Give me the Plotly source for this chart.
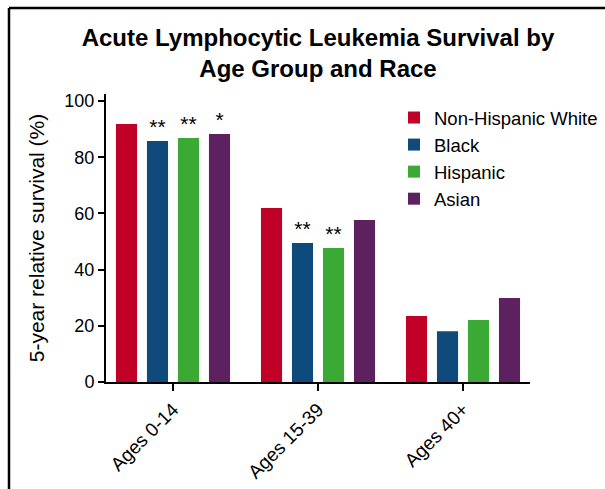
import plotly.graph_objects as go

# Data
age_groups = ["Ages 0-14", "Ages 15-39", "Ages 40+"]
races = ["Non-Hispanic White", "Black", "Hispanic", "Asian"]
white = [91.8, 61.9, 23.5]
black = [85.8, 49.5, 18.1]
hispanic = [86.8, 47.7, 22.1]
asian = [88.3, 57.7, 29.9]
sig_white = ["", "", ""]
sig_black = ["**", "**", ""]
sig_hispanic = ["**", "**", ""]
sig_asian = ["*", "", ""]

colors = ["#C00026", "#0F4A7D", "#3BAA34", "#5D2160"]
series = [white, black, hispanic, asian]
sigs = [sig_white, sig_black, sig_hispanic, sig_asian]

W, H = 605, 489
ML, MR, MT, MB = 106, 75, 94, 107
PW, PH = W - ML - MR, H - MT - MB


def px_x(px):
    return (px - ML) / PW


def px_y(py):
    return (H - MB - py) / PH


fig = go.Figure()
for name, vals, col, s in zip(races, series, colors, sigs):
    fig.add_trace(go.Bar(
        x=age_groups, y=vals, name=name, legendgroup=name,
        marker=dict(color=col, line=dict(width=0)),
        text=s, textposition="outside", constraintext="none",
        textfont=dict(size=21, color="black", family="Liberation Sans"),
        cliponaxis=False,
    ))

fig.update_layout(
    width=W, height=H,
    margin=dict(l=ML, r=MR, t=MT, b=MB, autoexpand=False),
    paper_bgcolor="white", plot_bgcolor="white",
    font=dict(family="Liberation Sans, Arial, sans-serif", color="black"),
    barmode="group", bargap=0.145, bargroupgap=0.32,
    title=dict(
        text="<b>Acute Lymphocytic Leukemia Survival by<br>Age Group and Race</b>",
        x=0.5, xref="paper", xanchor="center",
        y=1 - 46 / H, yref="container", yanchor="top",
        font=dict(size=24, family="Liberation Sans", color="black"),
        automargin=False,
    ),
    legend=dict(
        x=px_x(394), y=px_y(99), xanchor="left", yanchor="top",
        font=dict(size=18.5), bgcolor="rgba(0,0,0,0)",
        tracegroupgap=5, traceorder="normal", itemwidth=30,
    ),
    xaxis=dict(
        range=[-0.462, 2.462], showline=True, linecolor="black", linewidth=2,
        ticks="outside", ticklen=7, tickwidth=2, tickcolor="black",
        tickangle=-45, tickfont=dict(size=19), showgrid=False, zeroline=False,
        automargin=False,
    ),
    yaxis=dict(
        range=[0, 102.5], showline=True, linecolor="black", linewidth=2,
        ticks="outside", ticklen=6, tickwidth=1.5, tickcolor="black",
        tickvals=[0, 20, 40, 60, 80, 100], tickfont=dict(size=18),
        showgrid=False, zeroline=False, automargin=False,
        title=dict(text="5-year relative survival (%)", font=dict(size=21), standoff=14),
    ),
    shapes=[
        dict(type="line", xref="paper", yref="paper",
             x0=px_x(9), x1=px_x(606), y0=px_y(8), y1=px_y(8),
             line=dict(color="black", width=2.5)),
        dict(type="line", xref="paper", yref="paper",
             x0=px_x(9), x1=px_x(9), y0=px_y(8), y1=px_y(492),
             line=dict(color="black", width=2.5)),
    ],
)

fig.write_html("out.html")
